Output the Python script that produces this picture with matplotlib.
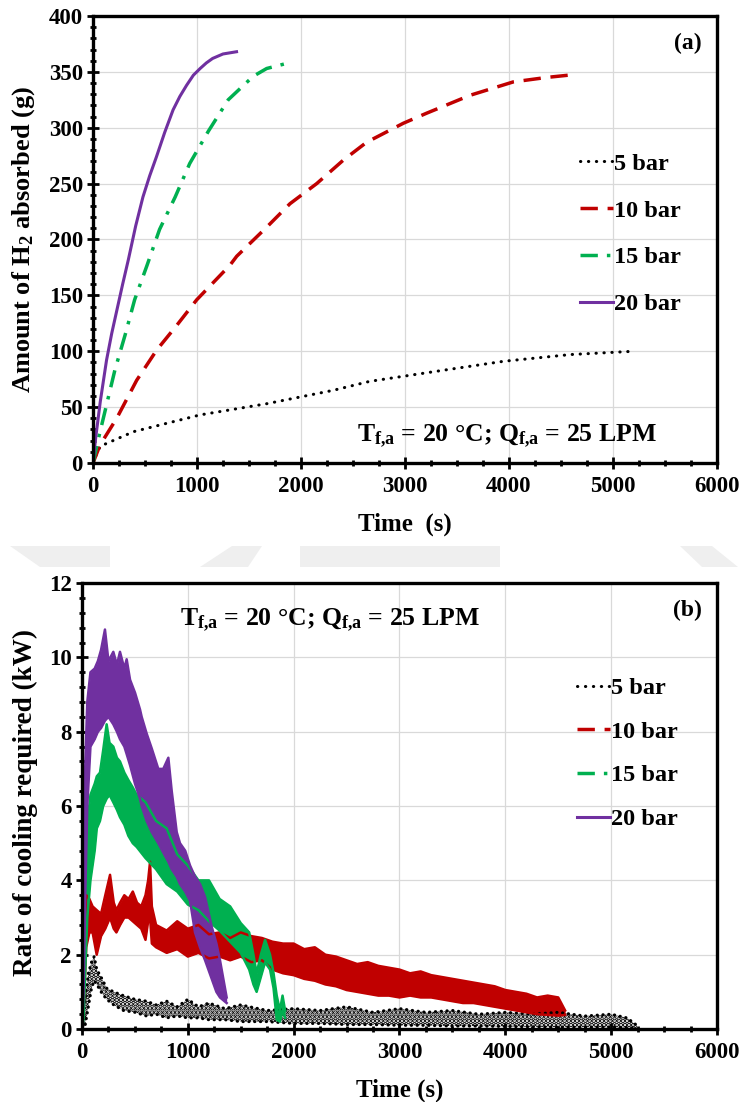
import matplotlib
matplotlib.use('Agg')
import matplotlib.pyplot as plt
from matplotlib.ticker import MultipleLocator
from matplotlib.patches import Polygon

plt.rcParams['font.family'] = ['Liberation Serif', 'DejaVu Serif']
plt.rcParams['font.weight'] = 'bold'
plt.rcParams['mathtext.fontset'] = 'custom'
plt.rcParams['mathtext.rm'] = 'Liberation Serif:bold'
plt.rcParams['mathtext.it'] = 'Liberation Serif:bold'
plt.rcParams['mathtext.bf'] = 'Liberation Serif:bold'
plt.rcParams['hatch.linewidth'] = 2.4

# ---------------- data: panel (a) amount of H2 absorbed ----------------
labels = ['5 bar', '10 bar', '15 bar', '20 bar']

t5a = [0, 20, 70, 390, 1030, 1670, 2310, 2660, 3300, 3950, 4590, 5210]
h5a = [0, 5, 15, 28, 43, 53, 65, 73, 82, 91, 97, 100]

t10a = [0, 67, 228, 420, 612, 804, 997, 1317, 1382, 1670, 1894, 2151, 2407,
        2631, 2984, 3208, 3625, 4041, 4362, 4570]
h10a = [0, 16, 40, 74, 101, 123, 146, 177, 185, 211, 232, 250, 271,
        287, 304, 313, 329, 341, 345, 347]

t15a = [0, 50, 130, 210, 310, 400, 520, 640, 790, 930, 1110, 1300, 1540, 1670, 1880]
h15a = [0, 21, 52, 83, 115, 146, 177, 209, 238, 268, 297, 325, 346, 353, 358]

t20a = [0, 25, 70, 130, 180, 230, 285, 340, 410, 480, 545, 610, 690, 770, 835, 900,
        965, 1030, 1090, 1150, 1250, 1380]
h20a = [0, 22, 55, 92, 116, 137, 160, 182, 212, 238, 257, 274, 296, 316, 328, 338,
        347, 353, 358, 362, 366, 368]

# ---------------- data: panel (b) rate of cooling (noisy band: upper / lower) ----------------
t5b = [0, 30, 60, 90, 115, 140, 180, 233, 300, 391, 500, 611, 700, 800, 900, 1000, 1100,
       1200, 1350, 1500, 1750, 2000, 2250, 2500, 2750, 3000, 3250, 3500, 3750, 4000,
       4250, 4500, 4750, 5000, 5150, 5243]
hi5b = [0.1, 0.8, 1.5, 1.8, 1.95, 1.6, 1.4, 1.1, 1.0, 0.9, 0.8, 0.75, 0.65, 0.75, 0.6,
        0.8, 0.6, 0.7, 0.55, 0.65, 0.5, 0.55, 0.5, 0.6, 0.45, 0.55, 0.45, 0.5, 0.4,
        0.45, 0.4, 0.45, 0.35, 0.4, 0.3, 0.1]
lo5b = [0.0, 0.1, 0.6, 1.1, 1.3, 1.2, 1.0, 0.8, 0.65, 0.5, 0.45, 0.35, 0.4, 0.3, 0.35,
        0.3, 0.3, 0.25, 0.25, 0.2, 0.2, 0.15, 0.15, 0.12, 0.12, 0.1, 0.1, 0.08, 0.08,
        0.07, 0.06, 0.05, 0.05, 0.05, 0.04, 0.02]

t10b = [0, 20, 40, 70, 100, 139, 180, 220, 265, 300, 325, 360, 400, 440, 480, 520,
        560, 600, 625, 643, 660, 700, 800, 900, 1000, 1100, 1200, 1300, 1400, 1500,
        1600, 1700, 1800, 1900, 2000, 2100, 2200, 2300, 2400, 2500, 2600, 2700, 2800,
        2900, 3000, 3100, 3200, 3300, 3400, 3500, 3600, 3700, 3800, 3900, 4000, 4100,
        4200, 4300, 4400, 4500, 4565]
hi10b = [0.3, 2.5, 3.6, 3.5, 3.3, 3.2, 3.1, 3.6, 4.15, 3.4, 3.2, 3.4, 3.6, 3.5, 3.7, 3.4,
         3.3, 3.6, 4.0, 4.5, 3.3, 2.8, 2.65, 2.9, 2.7, 2.8, 2.55, 2.6, 2.45, 2.6,
         2.5, 2.45, 2.35, 2.3, 2.3, 2.15, 2.2, 2.0, 1.95, 1.85, 1.75, 1.8, 1.7,
         1.65, 1.6, 1.5, 1.55, 1.45, 1.4, 1.35, 1.3, 1.25, 1.2, 1.15, 1.05, 1.0,
         0.95, 0.85, 0.9, 0.85, 0.5]
lo10b = [0.0, 0.8, 2.2, 2.6, 2.6, 2.0, 2.5, 2.7, 3.0, 2.7, 2.6, 2.8, 3.0, 3.0, 2.9, 2.8,
         2.7, 2.4, 2.9, 3.0, 2.3, 2.2, 2.05, 2.15, 1.95, 2.05, 1.9, 1.95, 1.85, 1.95,
         1.8, 1.85, 1.6, 1.5, 1.45, 1.35, 1.3, 1.2, 1.15, 1.05, 1.0, 0.95, 0.9,
         0.9, 0.85, 0.9, 0.85, 0.85, 0.8, 0.75, 0.7, 0.7, 0.65, 0.6, 0.55, 0.5,
         0.45, 0.4, 0.38, 0.36, 0.38]

t15b = [0, 15, 30, 50, 80, 120, 140, 170, 200, 233, 260, 296, 330, 359, 400, 438, 480,
        517, 600, 700, 800, 900, 1000, 1100, 1200, 1300, 1400, 1500, 1580, 1620, 1650,
        1690, 1730, 1777, 1810, 1840, 1870, 1895, 1919]
hi15b = [0.1, 2.5, 4.5, 5.5, 6.3, 6.6, 6.8, 6.9, 7.5, 8.2, 7.7, 7.6, 7.3, 7.2, 6.9, 6.7, 6.5,
         6.3, 6.1, 5.6, 5.4, 4.7, 4.4, 4.0, 4.0, 3.5, 3.3, 2.85, 2.6, 2.0, 1.5,
         2.0, 2.4, 2.0, 1.5, 0.9, 0.5, 0.9, 0.5]
lo15b = [0.0, 0.3, 1.5, 3.0, 4.0, 4.8, 5.4, 5.6, 6.0, 6.2, 6.3, 6.1, 5.9, 5.7, 5.5, 5.2, 5.0,
         4.9, 4.6, 4.3, 3.9, 3.7, 3.35, 3.2, 2.9, 2.65, 2.35, 2.05, 1.6, 1.2, 1.0,
         1.4, 1.8, 1.6, 1.1, 0.25, 0.2, 0.5, 0.3]

t20b = [0, 15, 30, 50, 80, 120, 150, 180, 217, 250, 296, 330, 359, 400, 422, 454, 501,
        548, 564, 611, 659, 721, 768, 816, 848, 895, 926, 975, 1021, 1068, 1115, 1163,
        1226, 1270, 1304, 1367]
hi20b = [0.2, 3.5, 7.0, 8.8, 9.6, 9.7, 9.9, 10.2, 10.75, 9.9, 10.15, 9.8, 10.15, 9.7, 9.95,
         9.4, 9.05, 8.6, 8.4, 7.95, 7.55, 7.0, 7.0, 7.3, 6.4, 5.3, 5.0, 4.8, 4.4, 4.1,
         3.9, 3.55, 2.75, 2.3, 1.85, 0.85]
lo20b = [0.0, 1.0, 3.5, 6.0, 7.6, 7.8, 8.0, 8.1, 8.3, 8.4, 8.2, 8.0, 7.8, 7.6, 7.4, 7.1,
         6.6, 6.2, 6.0, 5.6, 5.3, 5.0, 4.75, 4.5, 4.3, 4.1, 3.9, 3.7, 3.45, 2.6, 2.2,
         1.85, 1.35, 1.0, 0.85, 0.7]

annot = r'T$_{f{,}a}$ = 20 °C; Q$_{f{,}a}$ = 25 LPM'

# ---------------- styles ----------------
C_BLACK = 'black'
C_RED = '#c00000'
C_GREEN = '#00b050'
C_PURPLE = '#7030a0'
LW = 2.2

fig = plt.figure(figsize=(7.4, 11.02), dpi=100)
W, H = 740.0, 1102.0

# faint watermark shapes between the two panels
for pts in [[(10, 546), (110, 546), (110, 567), (40, 567)],
            [(232, 546), (262, 546), (248, 567), (200, 567)],
            [(300, 546), (500, 546), (500, 567), (300, 567)],
            [(680, 546), (712, 546), (738, 567), (702, 567)]]:
    fig.patches.append(Polygon([(x / W, 1 - y / H) for x, y in pts], closed=True,
                               transform=fig.transFigure, facecolor='#efefef',
                               edgecolor='none', zorder=0))

ax1 = fig.add_axes([0.1257, 0.5799, 0.8432, 0.4056])
ax2 = fig.add_axes([0.1108, 0.0662, 0.8581, 0.4047])


def style_axes(ax, ymax, ymajor, yminor):
    ax.set_xlim(0, 6000)
    ax.set_ylim(0, ymax)
    ax.xaxis.set_major_locator(MultipleLocator(1000))
    ax.xaxis.set_minor_locator(MultipleLocator(250))
    ax.yaxis.set_major_locator(MultipleLocator(ymajor))
    ax.yaxis.set_minor_locator(MultipleLocator(yminor))
    ax.grid(True, which='major', color='#d9d9d9', linewidth=0.9)
    ax.set_axisbelow(True)
    for s in ax.spines.values():
        s.set_linewidth(2.4)
        s.set_color('black')
    ax.tick_params(which='major', direction='inout', length=8.5, width=2.0,
                   labelsize=16.5, top=False, right=False)
    ax.tick_params(which='minor', direction='inout', length=4.0, width=2.0,
                   top=False, right=False)
    ax.tick_params(axis='x', which='major', pad=5)
    ax.tick_params(axis='y', which='major', pad=3)
    for lab in ax.get_xticklabels() + ax.get_yticklabels():
        lab.set_fontweight('bold')


# ---------------- panel (a) ----------------
style_axes(ax1, 400, 50, 10)
l5, = ax1.plot(t5a, h5a, color=C_BLACK, lw=LW, linestyle=(0, (0.1, 2.5)),
               dash_capstyle='round', label=labels[0])
l10, = ax1.plot(t10a, h10a, color=C_RED, lw=LW + 0.3, dashes=(5, 2.8),
                dash_capstyle='butt', label=labels[1])
l15, = ax1.plot(t15a, h15a, color=C_GREEN, lw=LW + 0.3, dashes=(5, 2.6, 1, 2.6),
                dash_capstyle='butt', label=labels[2])
l20, = ax1.plot(t20a, h20a, color=C_PURPLE, lw=LW, label=labels[3])
handles = [l5, l10, l15, l20]

ax1.set_xlabel('Time  (s)', fontsize=18, fontweight='bold')
ax1.set_ylabel(r'Amount of H$_2$ absorbed (g)', fontsize=19, fontweight='bold')
ax1.xaxis.set_label_coords(0.5, -0.112)
ax1.yaxis.set_label_coords(-0.089, 0.5)

ax1.legend(handles=handles, loc='upper left', bbox_to_anchor=(0.78, 0.694),
           frameon=False, fontsize=17.5, handlelength=1.35, handletextpad=0.05,
           labelspacing=1.02, borderpad=0, borderaxespad=0)
ax1.text(0.904, 0.047, annot, transform=ax1.transAxes, ha='right', va='baseline',
         fontsize=18.5, fontweight='bold')
ax1.text(0.976, 0.926, '(a)', transform=ax1.transAxes, ha='right', va='baseline',
         fontsize=17, fontweight='bold')

# ---------------- panel (b) ----------------
style_axes(ax2, 12, 2, 0.4)

ax2.fill_between(t5b, lo5b, hi5b, facecolor='none', edgecolor=C_BLACK, hatch='....',
                 linewidth=0)
ax2.plot(t5b, hi5b, color=C_BLACK, lw=2.2, linestyle=(0, (0.1, 1.8)), dash_capstyle='round')
ax2.plot(t5b, lo5b, color=C_BLACK, lw=2.2, linestyle=(0, (0.1, 1.8)), dash_capstyle='round')

for tt, lo, hi, col in [(t10b, lo10b, hi10b, C_RED),
                        (t15b, lo15b, hi15b, C_GREEN),
                        (t20b, lo20b, hi20b, C_PURPLE)]:
    ax2.fill_between(tt, lo, hi, color=col, linewidth=0)
    ax2.plot(tt, hi, color=col, lw=1.8)
    ax2.plot(tt, lo, color=col, lw=1.8)

ax2.set_xlabel('Time (s)', fontsize=18, fontweight='bold')
ax2.set_ylabel('Rate of cooling required (kW)', fontsize=19.5, fontweight='bold')
ax2.xaxis.set_label_coords(0.5, -0.112)
ax2.yaxis.set_label_coords(-0.070, 0.507)

ax2.legend(handles=handles, loc='upper left', bbox_to_anchor=(0.78, 0.789),
           frameon=False, fontsize=17.5, handlelength=1.35, handletextpad=0.05,
           labelspacing=0.89, borderpad=0, borderaxespad=0)
ax2.text(0.154, 0.904, annot, transform=ax2.transAxes, ha='left', va='baseline',
         fontsize=18.5, fontweight='bold')
ax2.text(0.976, 0.926, '(b)', transform=ax2.transAxes, ha='right', va='baseline',
         fontsize=17, fontweight='bold')

fig.savefig('out.png', dpi=100)
